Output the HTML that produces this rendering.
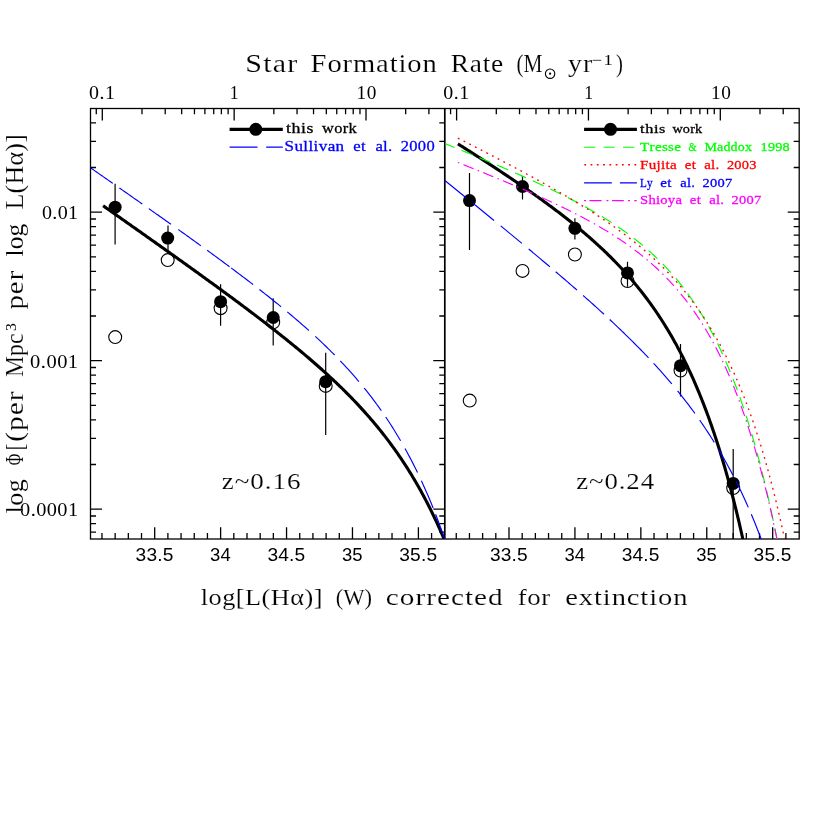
<!DOCTYPE html>
<html><head><meta charset="utf-8"><title>Halpha luminosity functions</title>
<style>html,body{margin:0;padding:0;background:#fff}svg{display:block;will-change:transform}text{font-kerning:none}</style></head>
<body>
<svg width="830" height="830" viewBox="0 0 830 830">
<rect width="830" height="830" fill="#fff"/>
<defs><clipPath id="cl"><rect x="90.5" y="108.5" width="354.3" height="430.5"/></clipPath>
<clipPath id="cr"><rect x="444.8" y="108.5" width="354.4" height="430.5"/></clipPath></defs>
<g stroke="#000" stroke-width="1.30" fill="none" stroke-linecap="butt">
<rect x="90.50" y="108.50" width="708.70" height="430.50"/>
<line x1="444.80" y1="108.50" x2="444.80" y2="539.00" stroke-width="1.7"/>
<path d="M101.96 539.00 V533.00 M115.15 539.00 V533.00 M128.33 539.00 V533.00 M141.51 539.00 V533.00 M154.70 539.00 V527.20 M167.89 539.00 V533.00 M181.07 539.00 V533.00 M194.25 539.00 V533.00 M207.44 539.00 V533.00 M220.62 539.00 V527.20 M233.81 539.00 V533.00 M247.00 539.00 V533.00 M260.18 539.00 V533.00 M273.36 539.00 V533.00 M286.55 539.00 V527.20 M299.74 539.00 V533.00 M312.92 539.00 V533.00 M326.10 539.00 V533.00 M339.29 539.00 V533.00 M352.47 539.00 V527.20 M365.66 539.00 V533.00 M378.85 539.00 V533.00 M392.03 539.00 V533.00 M405.21 539.00 V533.00 M418.40 539.00 V527.20 M431.59 539.00 V533.00 M96.27 108.50 V114.20 M102.30 108.50 V120.50 M141.99 108.50 V114.20 M165.21 108.50 V114.20 M181.68 108.50 V114.20 M194.46 108.50 V114.20 M204.90 108.50 V114.20 M213.73 108.50 V114.20 M221.38 108.50 V114.20 M228.12 108.50 V114.20 M234.15 108.50 V120.50 M273.84 108.50 V114.20 M297.06 108.50 V114.20 M313.53 108.50 V114.20 M326.31 108.50 V114.20 M336.75 108.50 V114.20 M345.58 108.50 V114.20 M353.23 108.50 V114.20 M359.97 108.50 V114.20 M366.00 108.50 V120.50 M405.69 108.50 V114.20 M428.91 108.50 V114.20 M456.26 539.00 V533.00 M469.45 539.00 V533.00 M482.63 539.00 V533.00 M495.81 539.00 V533.00 M509.00 539.00 V527.20 M522.19 539.00 V533.00 M535.37 539.00 V533.00 M548.55 539.00 V533.00 M561.74 539.00 V533.00 M574.92 539.00 V527.20 M588.11 539.00 V533.00 M601.30 539.00 V533.00 M614.48 539.00 V533.00 M627.66 539.00 V533.00 M640.85 539.00 V527.20 M654.04 539.00 V533.00 M667.22 539.00 V533.00 M680.40 539.00 V533.00 M693.59 539.00 V533.00 M706.77 539.00 V527.20 M719.96 539.00 V533.00 M733.15 539.00 V533.00 M746.33 539.00 V533.00 M759.51 539.00 V533.00 M772.70 539.00 V527.20 M785.89 539.00 V533.00 M450.57 108.50 V114.20 M456.60 108.50 V120.50 M496.29 108.50 V114.20 M519.51 108.50 V114.20 M535.98 108.50 V114.20 M548.76 108.50 V114.20 M559.20 108.50 V114.20 M568.03 108.50 V114.20 M575.68 108.50 V114.20 M582.42 108.50 V114.20 M588.45 108.50 V120.50 M628.14 108.50 V114.20 M651.36 108.50 V114.20 M667.83 108.50 V114.20 M680.61 108.50 V114.20 M691.05 108.50 V114.20 M699.88 108.50 V114.20 M707.53 108.50 V114.20 M714.27 108.50 V114.20 M720.30 108.50 V120.50 M759.99 108.50 V114.20 M783.21 108.50 V114.20 M90.50 532.20 H96.00 M439.30 532.20 H444.80 M799.20 532.20 H793.70 M90.50 523.59 H96.00 M439.30 523.59 H444.80 M799.20 523.59 H793.70 M90.50 515.99 H96.00 M439.30 515.99 H444.80 M799.20 515.99 H793.70 M90.50 509.20 H102.00 M433.30 509.20 H444.80 M799.20 509.20 H787.70 M90.50 464.50 H96.00 M439.30 464.50 H444.80 M799.20 464.50 H793.70 M90.50 438.35 H96.00 M439.30 438.35 H444.80 M799.20 438.35 H793.70 M90.50 419.79 H96.00 M439.30 419.79 H444.80 M799.20 419.79 H793.70 M90.50 405.40 H96.00 M439.30 405.40 H444.80 M799.20 405.40 H793.70 M90.50 393.64 H96.00 M439.30 393.64 H444.80 M799.20 393.64 H793.70 M90.50 383.70 H96.00 M439.30 383.70 H444.80 M799.20 383.70 H793.70 M90.50 375.09 H96.00 M439.30 375.09 H444.80 M799.20 375.09 H793.70 M90.50 367.49 H96.00 M439.30 367.49 H444.80 M799.20 367.49 H793.70 M90.50 360.70 H102.00 M433.30 360.70 H444.80 M799.20 360.70 H787.70 M90.50 316.00 H96.00 M439.30 316.00 H444.80 M799.20 316.00 H793.70 M90.50 289.85 H96.00 M439.30 289.85 H444.80 M799.20 289.85 H793.70 M90.50 271.29 H96.00 M439.30 271.29 H444.80 M799.20 271.29 H793.70 M90.50 256.90 H96.00 M439.30 256.90 H444.80 M799.20 256.90 H793.70 M90.50 245.14 H96.00 M439.30 245.14 H444.80 M799.20 245.14 H793.70 M90.50 235.20 H96.00 M439.30 235.20 H444.80 M799.20 235.20 H793.70 M90.50 226.59 H96.00 M439.30 226.59 H444.80 M799.20 226.59 H793.70 M90.50 218.99 H96.00 M439.30 218.99 H444.80 M799.20 218.99 H793.70 M90.50 212.20 H102.00 M433.30 212.20 H444.80 M799.20 212.20 H787.70 M90.50 167.50 H96.00 M439.30 167.50 H444.80 M799.20 167.50 H793.70 M90.50 141.35 H96.00 M439.30 141.35 H444.80 M799.20 141.35 H793.70 M90.50 122.79 H96.00 M439.30 122.79 H444.80 M799.20 122.79 H793.70"/>
</g>
<path d="M115.10 183.70 V244.40 M168.00 225.50 V251.00 M220.60 284.30 V325.80 M273.20 298.20 V345.40 M325.70 352.70 V434.90 M469.50 173.00 V250.10 M522.50 175.90 V199.60 M574.90 218.30 V239.50 M627.50 261.70 V286.70 M680.50 343.90 V396.50 M733.20 449.00 V539.00" stroke="#000" stroke-width="1.2" fill="none"/>
<g fill="none" stroke="#000" stroke-width="1.1"><circle cx="115.20" cy="337.10" r="6.45"/><circle cx="167.70" cy="260.10" r="6.45"/><circle cx="220.60" cy="308.20" r="6.45"/><circle cx="273.20" cy="322.30" r="6.45"/><circle cx="325.70" cy="385.90" r="6.45"/><circle cx="469.70" cy="400.60" r="6.45"/><circle cx="522.50" cy="270.90" r="6.45"/><circle cx="574.90" cy="254.50" r="6.45"/><circle cx="627.50" cy="281.00" r="6.45"/><circle cx="680.50" cy="370.50" r="6.45"/><circle cx="733.20" cy="488.10" r="6.45"/></g>
<path d="M103.10 205.78 L104.24 206.59 L105.39 207.39 L106.53 208.19 L107.67 209.00 L108.82 209.80 L109.96 210.60 L111.11 211.41 L112.25 212.21 L113.39 213.02 L114.54 213.82 L115.68 214.63 L116.82 215.43 L117.97 216.24 L119.11 217.04 L120.25 217.85 L121.40 218.65 L122.54 219.46 L123.69 220.26 L124.83 221.07 L125.97 221.87 L127.12 222.68 L128.26 223.48 L129.40 224.29 L130.55 225.10 L131.69 225.90 L132.84 226.71 L133.98 227.52 L135.12 228.32 L136.27 229.13 L137.41 229.94 L138.55 230.75 L139.70 231.55 L140.84 232.36 L141.98 233.17 L143.13 233.98 L144.27 234.79 L145.42 235.60 L146.56 236.40 L147.70 237.21 L148.85 238.02 L149.99 238.83 L151.13 239.64 L152.28 240.45 L153.42 241.26 L154.56 242.07 L155.71 242.88 L156.85 243.69 L158.00 244.51 L159.14 245.32 L160.28 246.13 L161.43 246.94 L162.57 247.75 L163.71 248.57 L164.86 249.38 L166.00 250.19 L167.15 251.00 L168.29 251.82 L169.43 252.63 L170.58 253.45 L171.72 254.26 L172.86 255.08 L174.01 255.89 L175.15 256.71 L176.29 257.52 L177.44 258.34 L178.58 259.16 L179.73 259.97 L180.87 260.79 L182.01 261.61 L183.16 262.43 L184.30 263.25 L185.44 264.06 L186.59 264.88 L187.73 265.70 L188.87 266.52 L190.02 267.35 L191.16 268.17 L192.31 268.99 L193.45 269.81 L194.59 270.63 L195.74 271.46 L196.88 272.28 L198.02 273.10 L199.17 273.93 L200.31 274.75 L201.46 275.58 L202.60 276.41 L203.74 277.23 L204.89 278.06 L206.03 278.89 L207.17 279.72 L208.32 280.55 L209.46 281.38 L210.60 282.21 L211.75 283.04 L212.89 283.87 L214.04 284.70 L215.18 285.53 L216.32 286.37 L217.47 287.20 L218.61 288.04 L219.75 288.87 L220.90 289.71 L222.04 290.55 L223.18 291.39 L224.33 292.23 L225.47 293.07 L226.62 293.91 L227.76 294.75 L228.90 295.59 L230.05 296.43 L231.19 297.28 L232.33 298.12 L233.48 298.97 L234.62 299.82 L235.77 300.66 L236.91 301.51 L238.05 302.36 L239.20 303.22 L240.34 304.07 L241.48 304.92 L242.63 305.78 L243.77 306.63 L244.91 307.49 L246.06 308.35 L247.20 309.20 L248.35 310.06 L249.49 310.93 L250.63 311.79 L251.78 312.65 L252.92 313.52 L254.06 314.39 L255.21 315.25 L256.35 316.12 L257.49 316.99 L258.64 317.87 L259.78 318.74 L260.93 319.62 L262.07 320.49 L263.21 321.37 L264.36 322.25 L265.50 323.13 L266.64 324.02 L267.79 324.90 L268.93 325.79 L270.08 326.68 L271.22 327.57 L272.36 328.46 L273.51 329.36 L274.65 330.25 L275.79 331.15 L276.94 332.05 L278.08 332.95 L279.22 333.86 L280.37 334.77 L281.51 335.67 L282.66 336.59 L283.80 337.50 L284.94 338.41 L286.09 339.33 L287.23 340.25 L288.37 341.18 L289.52 342.10 L290.66 343.03 L291.80 343.96 L292.95 344.89 L294.09 345.83 L295.24 346.77 L296.38 347.71 L297.52 348.65 L298.67 349.60 L299.81 350.55 L300.95 351.51 L302.10 352.46 L303.24 353.42 L304.39 354.38 L305.53 355.35 L306.67 356.32 L307.82 357.29 L308.96 358.27 L310.10 359.25 L311.25 360.24 L312.39 361.22 L313.53 362.22 L314.68 363.21 L315.82 364.21 L316.97 365.21 L318.11 366.22 L319.25 367.23 L320.40 368.25 L321.54 369.27 L322.68 370.30 L323.83 371.32 L324.97 372.36 L326.11 373.40 L327.26 374.44 L328.40 375.49 L329.55 376.54 L330.69 377.60 L331.83 378.67 L332.98 379.74 L334.12 380.81 L335.26 381.89 L336.41 382.98 L337.55 384.07 L338.70 385.17 L339.84 386.28 L340.98 387.39 L342.13 388.50 L343.27 389.63 L344.41 390.76 L345.56 391.89 L346.70 393.03 L347.84 394.18 L348.99 395.34 L350.13 396.51 L351.28 397.68 L352.42 398.86 L353.56 400.04 L354.71 401.24 L355.85 402.44 L356.99 403.65 L358.14 404.87 L359.28 406.10 L360.42 407.34 L361.57 408.58 L362.71 409.84 L363.86 411.10 L365.00 412.37 L366.14 413.66 L367.29 414.95 L368.43 416.25 L369.57 417.56 L370.72 418.89 L371.86 420.22 L373.01 421.56 L374.15 422.92 L375.29 424.29 L376.44 425.66 L377.58 427.05 L378.72 428.46 L379.87 429.87 L381.01 431.29 L382.15 432.73 L383.30 434.19 L384.44 435.65 L385.59 437.13 L386.73 438.62 L387.87 440.13 L389.02 441.65 L390.16 443.18 L391.30 444.73 L392.45 446.30 L393.59 447.88 L394.73 449.47 L395.88 451.09 L397.02 452.71 L398.17 454.36 L399.31 456.02 L400.45 457.70 L401.60 459.40 L402.74 461.11 L403.88 462.85 L405.03 464.60 L406.17 466.37 L407.32 468.17 L408.46 469.98 L409.60 471.81 L410.75 473.67 L411.89 475.54 L413.03 477.44 L414.18 479.35 L415.32 481.30 L416.46 483.26 L417.61 485.25 L418.75 487.26 L419.90 489.30 L421.04 491.36 L422.18 493.44 L423.33 495.56 L424.47 497.70 L425.61 499.86 L426.76 502.06 L427.90 504.28 L429.04 506.53 L430.19 508.81 L431.33 511.12 L432.48 513.46 L433.62 515.83 L434.76 518.23 L435.91 520.67 L437.05 523.14 L438.19 525.64 L439.34 528.18 L440.48 530.75 L441.63 533.36 L442.77 536.00 L443.91 538.68 L445.06 541.40" stroke="#000" stroke-width="3.1" fill="none" clip-path="url(#cl)"/>
<path d="M457.90 143.87 L458.86 144.47 L459.81 145.08 L460.77 145.69 L461.73 146.29 L462.68 146.90 L463.64 147.51 L464.59 148.12 L465.55 148.73 L466.51 149.34 L467.46 149.94 L468.42 150.56 L469.38 151.17 L470.33 151.78 L471.29 152.39 L472.25 153.00 L473.20 153.61 L474.16 154.23 L475.11 154.84 L476.07 155.46 L477.03 156.07 L477.98 156.69 L478.94 157.30 L479.90 157.92 L480.85 158.54 L481.81 159.16 L482.77 159.78 L483.72 160.40 L484.68 161.02 L485.63 161.64 L486.59 162.26 L487.55 162.88 L488.50 163.51 L489.46 164.13 L490.42 164.75 L491.37 165.38 L492.33 166.01 L493.29 166.63 L494.24 167.26 L495.20 167.89 L496.15 168.52 L497.11 169.15 L498.07 169.78 L499.02 170.41 L499.98 171.05 L500.94 171.68 L501.89 172.31 L502.85 172.95 L503.81 173.59 L504.76 174.22 L505.72 174.86 L506.67 175.50 L507.63 176.14 L508.59 176.78 L509.54 177.43 L510.50 178.07 L511.46 178.72 L512.41 179.36 L513.37 180.01 L514.33 180.66 L515.28 181.31 L516.24 181.96 L517.19 182.61 L518.15 183.26 L519.11 183.91 L520.06 184.57 L521.02 185.23 L521.98 185.88 L522.93 186.54 L523.89 187.20 L524.85 187.87 L525.80 188.53 L526.76 189.19 L527.71 189.86 L528.67 190.53 L529.63 191.20 L530.58 191.87 L531.54 192.54 L532.50 193.21 L533.45 193.89 L534.41 194.57 L535.37 195.24 L536.32 195.93 L537.28 196.61 L538.23 197.29 L539.19 197.98 L540.15 198.66 L541.10 199.35 L542.06 200.04 L543.02 200.74 L543.97 201.43 L544.93 202.13 L545.89 202.83 L546.84 203.53 L547.80 204.23 L548.75 204.93 L549.71 205.64 L550.67 206.35 L551.62 207.06 L552.58 207.77 L553.54 208.49 L554.49 209.21 L555.45 209.93 L556.41 210.65 L557.36 211.38 L558.32 212.10 L559.27 212.83 L560.23 213.56 L561.19 214.30 L562.14 215.04 L563.10 215.78 L564.06 216.52 L565.01 217.27 L565.97 218.02 L566.93 218.77 L567.88 219.52 L568.84 220.28 L569.79 221.04 L570.75 221.80 L571.71 222.57 L572.66 223.34 L573.62 224.11 L574.58 224.89 L575.53 225.67 L576.49 226.45 L577.45 227.23 L578.40 228.02 L579.36 228.82 L580.31 229.61 L581.27 230.41 L582.23 231.22 L583.18 232.03 L584.14 232.84 L585.10 233.65 L586.05 234.47 L587.01 235.30 L587.97 236.12 L588.92 236.96 L589.88 237.79 L590.83 238.63 L591.79 239.48 L592.75 240.33 L593.70 241.18 L594.66 242.04 L595.62 242.90 L596.57 243.77 L597.53 244.64 L598.49 245.52 L599.44 246.40 L600.40 247.29 L601.35 248.19 L602.31 249.08 L603.27 249.99 L604.22 250.90 L605.18 251.81 L606.14 252.73 L607.09 253.66 L608.05 254.59 L609.01 255.53 L609.96 256.47 L610.92 257.42 L611.87 258.38 L612.83 259.34 L613.79 260.31 L614.74 261.29 L615.70 262.27 L616.66 263.26 L617.61 264.26 L618.57 265.26 L619.53 266.27 L620.48 267.29 L621.44 268.31 L622.39 269.34 L623.35 270.38 L624.31 271.43 L625.26 272.49 L626.22 273.55 L627.18 274.62 L628.13 275.70 L629.09 276.79 L630.05 277.89 L631.00 278.99 L631.96 280.11 L632.91 281.23 L633.87 282.37 L634.83 283.51 L635.78 284.66 L636.74 285.82 L637.70 286.99 L638.65 288.17 L639.61 289.36 L640.57 290.57 L641.52 291.78 L642.48 293.00 L643.43 294.23 L644.39 295.48 L645.35 296.73 L646.30 298.00 L647.26 299.28 L648.22 300.57 L649.17 301.87 L650.13 303.19 L651.09 304.51 L652.04 305.85 L653.00 307.21 L653.95 308.57 L654.91 309.95 L655.87 311.34 L656.82 312.75 L657.78 314.17 L658.74 315.60 L659.69 317.05 L660.65 318.51 L661.61 319.99 L662.56 321.48 L663.52 322.99 L664.47 324.52 L665.43 326.06 L666.39 327.61 L667.34 329.18 L668.30 330.77 L669.26 332.38 L670.21 334.00 L671.17 335.64 L672.13 337.30 L673.08 338.98 L674.04 340.68 L674.99 342.39 L675.95 344.12 L676.91 345.88 L677.86 347.65 L678.82 349.44 L679.78 351.25 L680.73 353.09 L681.69 354.94 L682.65 356.82 L683.60 358.72 L684.56 360.64 L685.51 362.58 L686.47 364.55 L687.43 366.54 L688.38 368.55 L689.34 370.59 L690.30 372.65 L691.25 374.74 L692.21 376.85 L693.17 378.99 L694.12 381.15 L695.08 383.34 L696.03 385.56 L696.99 387.81 L697.95 390.08 L698.90 392.38 L699.86 394.72 L700.82 397.08 L701.77 399.47 L702.73 401.89 L703.69 404.34 L704.64 406.83 L705.60 409.34 L706.55 411.89 L707.51 414.47 L708.47 417.09 L709.42 419.74 L710.38 422.42 L711.34 425.14 L712.29 427.90 L713.25 430.69 L714.21 433.52 L715.16 436.39 L716.12 439.30 L717.07 442.24 L718.03 445.23 L718.99 448.25 L719.94 451.32 L720.90 454.43 L721.86 457.58 L722.81 460.78 L723.77 464.02 L724.73 467.30 L725.68 470.63 L726.64 474.01 L727.59 477.43 L728.55 480.90 L729.51 484.42 L730.46 487.99 L731.42 491.61 L732.38 495.28 L733.33 499.00 L734.29 502.78 L735.25 506.61 L736.20 510.49 L737.16 514.43 L738.11 518.43 L739.07 522.48 L740.03 526.60 L740.98 530.77 L741.94 535.00 L742.90 539.30 L743.85 543.65" stroke="#000" stroke-width="3.1" fill="none" clip-path="url(#cr)"/>
<g fill="#000"><circle cx="115.10" cy="207.20" r="6.5"/><circle cx="167.70" cy="238.10" r="6.5"/><circle cx="220.60" cy="301.70" r="6.5"/><circle cx="273.20" cy="317.50" r="6.5"/><circle cx="325.70" cy="381.70" r="6.5"/><circle cx="469.50" cy="200.60" r="6.5"/><circle cx="522.50" cy="186.50" r="6.5"/><circle cx="574.90" cy="228.30" r="6.5"/><circle cx="627.50" cy="272.90" r="6.5"/><circle cx="680.50" cy="365.70" r="6.5"/><circle cx="733.20" cy="483.40" r="6.5"/></g>
<path d="M88.00 166.05 L89.55 167.13 L91.10 168.21 L92.65 169.29 L94.20 170.37 L95.75 171.46 L97.30 172.54 L98.85 173.62 L100.40 174.70 L101.95 175.78 L103.50 176.86 L105.05 177.94 L106.60 179.03 L108.15 180.11 L109.70 181.19 L111.25 182.28 L112.80 183.36 M119.40 187.98 L120.93 189.04 L122.45 190.11 L123.98 191.18 L125.51 192.25 L127.03 193.32 L128.56 194.39 L130.09 195.46 L131.61 196.53 L133.14 197.61 L134.67 198.68 L136.19 199.75 L137.72 200.82 L139.25 201.90 L140.77 202.97 L142.30 204.04 M148.80 208.62 L150.39 209.74 L151.97 210.86 L153.56 211.98 L155.14 213.10 L156.73 214.22 L158.31 215.34 L159.90 216.46 L161.49 217.58 L163.07 218.71 L164.66 219.83 L166.24 220.95 L167.83 222.08 L169.41 223.21 L171.00 224.33 M178.30 229.53 L179.80 230.60 L181.30 231.67 L182.80 232.75 L184.30 233.82 L185.80 234.89 L187.30 235.97 L188.80 237.04 L190.30 238.12 L191.80 239.20 L193.30 240.28 L194.80 241.36 L196.30 242.44 L197.80 243.52 L199.30 244.61 L200.80 245.69 M207.20 250.33 L208.79 251.49 L210.39 252.65 L211.98 253.81 L213.57 254.98 L215.16 256.14 L216.76 257.31 L218.35 258.48 L219.94 259.65 L221.54 260.83 L223.13 262.00 L224.72 263.18 L226.31 264.36 L227.91 265.54 L229.50 266.72 M231.20 267.99 L232.76 269.16 L234.33 270.33 L235.89 271.50 L237.46 272.67 L239.02 273.85 L240.59 275.03 L242.15 276.21 L243.71 277.40 L245.28 278.58 L246.84 279.77 L248.41 280.97 L249.97 282.16 L251.54 283.36 L253.10 284.57 M259.50 289.53 L261.04 290.72 L262.57 291.93 L264.11 293.13 L265.64 294.34 L267.18 295.56 L268.71 296.77 L270.25 298.00 L271.79 299.22 L273.32 300.45 L274.86 301.69 L276.39 302.93 L277.93 304.17 L279.46 305.42 L281.00 306.68 M287.30 311.88 L288.84 313.17 L290.39 314.47 L291.93 315.77 L293.47 317.08 L295.01 318.39 L296.56 319.71 L298.10 321.04 L299.64 322.38 L301.19 323.72 L302.73 325.07 L304.27 326.43 L305.81 327.79 L307.36 329.17 L308.90 330.55 M315.30 336.37 L316.91 337.86 L318.52 339.36 L320.12 340.87 L321.73 342.40 L323.34 343.93 L324.95 345.48 L326.56 347.03 L328.17 348.61 L329.78 350.19 L331.38 351.79 L332.99 353.40 L334.60 355.02 M340.30 360.90 L341.85 362.54 L343.40 364.19 L344.95 365.85 L346.50 367.53 L348.05 369.23 L349.60 370.94 L351.15 372.68 L352.70 374.43 L354.25 376.19 L355.80 377.98 L357.35 379.79 L358.90 381.62 M364.20 388.03 L365.76 389.97 L367.33 391.93 L368.89 393.92 L370.45 395.93 L372.02 397.97 L373.58 400.04 L375.15 402.13 L376.71 404.25 L378.27 406.40 L379.84 408.58 L381.40 410.79 M385.70 417.03 L387.36 419.50 L389.01 422.01 L390.67 424.56 L392.32 427.15 L393.98 429.78 L395.63 432.46 L397.29 435.18 L398.94 437.94 L400.60 440.76 M405.00 448.48 L406.56 451.31 L408.12 454.18 L409.69 457.11 L411.25 460.09 L412.81 463.12 L414.38 466.21 L415.94 469.35 L417.50 472.55 M421.40 480.79 L423.07 484.43 L424.74 488.16 L426.41 491.96 L428.09 495.84 L429.76 499.79 L431.43 503.83 L433.10 507.96 M435.60 514.30 L437.33 518.81 L439.07 523.43 L440.80 528.15 L442.53 532.98 L444.27 537.92 L446.00 542.97" stroke="#00f" stroke-width="1.15" fill="none" clip-path="url(#cl)"/>
<path d="M443.00 179.06 L444.54 180.30 L446.08 181.54 L447.62 182.79 L449.16 184.03 L450.70 185.28 L452.24 186.52 L453.78 187.77 L455.32 189.01 L456.86 190.26 L458.40 191.50 L459.94 192.75 L461.48 194.00 L463.02 195.25 L464.56 196.49 L466.10 197.74 M472.70 203.10 L474.22 204.33 L475.74 205.57 L477.26 206.81 L478.79 208.04 L480.31 209.28 L481.83 210.52 L483.35 211.76 L484.87 213.00 L486.39 214.24 L487.91 215.48 L489.44 216.72 L490.96 217.96 L492.48 219.21 L494.00 220.45 M500.70 225.93 L502.21 227.18 L503.73 228.42 L505.24 229.66 L506.76 230.90 L508.27 232.15 L509.79 233.40 L511.30 234.64 L512.81 235.89 L514.33 237.14 L515.84 238.39 L517.36 239.64 L518.87 240.89 L520.39 242.14 L521.90 243.40 M528.70 249.04 L530.21 250.30 L531.73 251.56 L533.24 252.83 L534.76 254.09 L536.27 255.36 L537.79 256.63 L539.30 257.89 L540.81 259.17 L542.33 260.44 L543.84 261.71 L545.36 262.99 L546.87 264.26 L548.39 265.54 L549.90 266.82 M555.70 271.74 L557.22 273.04 L558.74 274.34 L560.26 275.64 L561.79 276.94 L563.31 278.25 L564.83 279.55 L566.35 280.86 L567.87 282.18 L569.39 283.49 L570.91 284.81 L572.44 286.13 L573.96 287.45 L575.48 288.78 L577.00 290.10 M583.10 295.46 L584.71 296.88 L586.32 298.31 L587.92 299.74 L589.53 301.17 L591.14 302.60 L592.75 304.05 L594.35 305.49 L595.96 306.94 L597.57 308.39 L599.18 309.85 L600.78 311.32 L602.39 312.79 L604.00 314.26 M609.70 319.53 L611.25 320.98 L612.80 322.44 L614.36 323.90 L615.91 325.36 L617.46 326.83 L619.01 328.31 L620.56 329.79 L622.12 331.29 L623.67 332.78 L625.22 334.29 L626.77 335.80 L628.32 337.32 L629.88 338.85 L631.43 340.38 L632.98 341.93 L634.53 343.48 L636.08 345.04 L637.64 346.61 L639.19 348.18 L640.74 349.77 L642.29 351.37 L643.84 352.97 L645.40 354.59 L646.95 356.22 L648.50 357.85 M653.60 363.31 L655.12 364.96 L656.63 366.62 L658.15 368.29 L659.67 369.97 L661.18 371.67 L662.70 373.37 L664.22 375.10 L665.73 376.83 L667.25 378.58 L668.77 380.34 L670.28 382.12 L671.80 383.92 M677.60 390.92 L679.17 392.87 L680.75 394.83 L682.32 396.81 L683.89 398.81 L685.46 400.83 L687.04 402.88 L688.61 404.94 L690.18 407.03 L691.75 409.14 L693.33 411.27 L694.90 413.43 M699.70 420.18 L701.32 422.52 L702.94 424.88 L704.57 427.28 L706.19 429.71 L707.81 432.17 L709.43 434.66 L711.06 437.19 L712.68 439.76 L714.30 442.36 M718.60 449.43 L720.19 452.12 L721.78 454.85 L723.37 457.61 L724.96 460.42 L726.54 463.27 L728.13 466.17 L729.72 469.11 L731.31 472.10 L732.90 475.14 M736.20 481.61 L737.71 484.65 L739.23 487.73 L740.74 490.87 L742.25 494.06 L743.76 497.31 L745.27 500.61 L746.79 503.96 L748.30 507.37 M751.30 514.31 L752.97 518.29 L754.64 522.34 L756.31 526.47 L757.99 530.69 L759.66 534.98 L761.33 539.37 L763.00 543.85" stroke="#00f" stroke-width="1.15" fill="none" clip-path="url(#cr)"/>
<path d="M445.20 143.70 L446.04 144.04 L446.87 144.38 L447.71 144.72 L448.55 145.05 L449.38 145.39 L450.22 145.73 L451.06 146.07 L451.89 146.41 L452.73 146.75 L453.57 147.09 L454.40 147.43 L455.24 147.77 L456.08 148.11 L456.91 148.45 L457.75 148.79 L458.59 149.13 L459.42 149.47 L460.26 149.81 L461.09 150.16 L461.93 150.50 L462.77 150.84 L463.60 151.18 L464.44 151.53 L465.28 151.87 L466.11 152.21 L466.95 152.55 L467.79 152.90 L468.62 153.24 L469.46 153.59 L470.30 153.93 L471.13 154.27 L471.97 154.62 L472.81 154.96 L473.64 155.31 L474.48 155.66 L475.32 156.00 L476.15 156.35 L476.99 156.69 L477.83 157.04 L478.66 157.39 L479.50 157.74 L480.34 158.08 L481.17 158.43 L482.01 158.78 L482.85 159.13 L483.68 159.48 L484.52 159.83 L485.36 160.18 L486.19 160.53 L487.03 160.88 L487.87 161.23 L488.70 161.58 L489.54 161.93 L490.37 162.28 L491.21 162.64 L492.05 162.99 L492.88 163.34 L493.72 163.70 L494.56 164.05 L495.39 164.40 L496.23 164.76 L497.07 165.11 L497.90 165.47 L498.74 165.83 L499.58 166.18 L500.41 166.54 L501.25 166.90 L502.09 167.25 L502.92 167.61 L503.76 167.97 L504.60 168.33 L505.43 168.69 L506.27 169.05 L507.11 169.41 L507.94 169.77 L508.78 170.14 L509.62 170.50 L510.45 170.86 L511.29 171.22 L512.13 171.59 L512.96 171.95 L513.80 172.32 L514.64 172.68 L515.47 173.05 L516.31 173.42 L517.15 173.78 L517.98 174.15 L518.82 174.52 L519.65 174.89 L520.49 175.26 L521.33 175.63 L522.16 176.00 L523.00 176.37 L523.84 176.75 L524.67 177.12 L525.51 177.49 L526.35 177.87 L527.18 178.24 L528.02 178.62 L528.86 179.00 L529.69 179.37 L530.53 179.75 L531.37 180.13 L532.20 180.51 L533.04 180.89 L533.88 181.27 L534.71 181.66 L535.55 182.04 L536.39 182.42 L537.22 182.81 L538.06 183.19 L538.90 183.58 L539.73 183.97 L540.57 184.36 L541.41 184.74 L542.24 185.14 L543.08 185.53 L543.92 185.92 L544.75 186.31 L545.59 186.71 L546.43 187.10 L547.26 187.50 L548.10 187.89 L548.93 188.29 L549.77 188.69 L550.61 189.09 L551.44 189.49 L552.28 189.90 L553.12 190.30 L553.95 190.70 L554.79 191.11 L555.63 191.52 L556.46 191.93 L557.30 192.33 L558.14 192.75 L558.97 193.16 L559.81 193.57 L560.65 193.99 L561.48 194.40 L562.32 194.82 L563.16 195.24 L563.99 195.66 L564.83 196.08 L565.67 196.50 L566.50 196.92 L567.34 197.35 L568.18 197.78 L569.01 198.21 L569.85 198.64 L570.69 199.07 L571.52 199.50 L572.36 199.93 L573.20 200.37 L574.03 200.81 L574.87 201.25 L575.71 201.69 L576.54 202.13 L577.38 202.58 L578.21 203.02 L579.05 203.47 L579.89 203.92 L580.72 204.37 L581.56 204.83 L582.40 205.28 L583.23 205.74 L584.07 206.20 L584.91 206.66 L585.74 207.12 L586.58 207.59 L587.42 208.06 L588.25 208.52 L589.09 209.00 L589.93 209.47 L590.76 209.95 L591.60 210.42 L592.44 210.90 L593.27 211.39 L594.11 211.87 L594.95 212.36 L595.78 212.85 L596.62 213.34 L597.46 213.83 L598.29 214.33 L599.13 214.83 L599.97 215.33 L600.80 215.84 L601.64 216.34 L602.48 216.85 L603.31 217.37 L604.15 217.88 L604.99 218.40 L605.82 218.92 L606.66 219.44 L607.49 219.97 L608.33 220.50 L609.17 221.03 L610.00 221.57 L610.84 222.11 L611.68 222.65 L612.51 223.19 L613.35 223.74 L614.19 224.29 L615.02 224.85 L615.86 225.41 L616.70 225.97 L617.53 226.53 L618.37 227.10 L619.21 227.67 L620.04 228.25 L620.88 228.83 L621.72 229.41 L622.55 230.00 L623.39 230.59 L624.23 231.18 L625.06 231.78 L625.90 232.38 L626.74 232.99 L627.57 233.60 L628.41 234.22 L629.25 234.84 L630.08 235.46 L630.92 236.09 L631.76 236.72 L632.59 237.36 L633.43 238.00 L634.27 238.64 L635.10 239.30 L635.94 239.95 L636.77 240.61 L637.61 241.28 L638.45 241.95 L639.28 242.62 L640.12 243.30 L640.96 243.99 L641.79 244.68 L642.63 245.38 L643.47 246.08 L644.30 246.79 L645.14 247.50 L645.98 248.22 L646.81 248.94 L647.65 249.67 L648.49 250.41 L649.32 251.15 L650.16 251.90 L651.00 252.65 L651.83 253.42 L652.67 254.18 L653.51 254.96 L654.34 255.74 L655.18 256.53 L656.02 257.32 L656.85 258.12 L657.69 258.93 L658.53 259.74 L659.36 260.57 L660.20 261.39 L661.04 262.23 L661.87 263.08 L662.71 263.93 L663.54 264.79 L664.38 265.66 L665.22 266.53 L666.05 267.41 L666.89 268.31 L667.73 269.21 L668.56 270.12 L669.40 271.03 L670.24 271.96 L671.07 272.89 L671.91 273.84 L672.75 274.79 L673.58 275.75 L674.42 276.72 L675.26 277.70 L676.09 278.69 L676.93 279.69 L677.77 280.71 L678.60 281.73 L679.44 282.76 L680.28 283.80 L681.11 284.85 L681.95 285.91 L682.79 286.98 L683.62 288.07 L684.46 289.16 L685.30 290.27 L686.13 291.39 L686.97 292.52 L687.81 293.66 L688.64 294.81 L689.48 295.98 L690.32 297.15 L691.15 298.34 L691.99 299.55 L692.82 300.76 L693.66 301.99 L694.50 303.24 L695.33 304.49 L696.17 305.76 L697.01 307.04 L697.84 308.34 L698.68 309.65 L699.52 310.98 L700.35 312.32 L701.19 313.68 L702.03 315.05 L702.86 316.43 L703.70 317.84 L704.54 319.25 L705.37 320.69 L706.21 322.14 L707.05 323.61 L707.88 325.09 L708.72 326.59 L709.56 328.11 L710.39 329.64 L711.23 331.20 L712.07 332.77 L712.90 334.36 L713.74 335.97 L714.58 337.59 L715.41 339.24 L716.25 340.91 L717.09 342.59 L717.92 344.30 L718.76 346.02 L719.60 347.77 L720.43 349.54 L721.27 351.33 L722.10 353.14 L722.94 354.97 L723.78 356.82 L724.61 358.70 L725.45 360.60 L726.29 362.52 L727.12 364.47 L727.96 366.44 L728.80 368.43 L729.63 370.45 L730.47 372.49 L731.31 374.56 L732.14 376.66 L732.98 378.78 L733.82 380.92 L734.65 383.10 L735.49 385.30 L736.33 387.53 L737.16 389.78 L738.00 392.07 L738.84 394.38 L739.67 396.73 L740.51 399.10 L741.35 401.50 L742.18 403.93 L743.02 406.40 L743.86 408.89 L744.69 411.42 L745.53 413.98 L746.37 416.57 L747.20 419.20 L748.04 421.86 L748.88 424.56 L749.71 427.29 L750.55 430.05 L751.38 432.85 L752.22 435.69 L753.06 438.56 L753.89 441.47 L754.73 444.42 L755.57 447.41 L756.40 450.44 L757.24 453.51 L758.08 456.61 L758.91 459.76 L759.75 462.95 L760.59 466.18 L761.42 469.46 L762.26 472.78 L763.10 476.14 L763.93 479.55 L764.77 483.00 L765.61 486.50 L766.44 490.04 L767.28 493.64 L768.12 497.28 L768.95 500.97 L769.79 504.70 L770.63 508.49 L771.46 512.33 L772.30 516.23 L773.14 520.17 L773.97 524.17 L774.81 528.22 L775.65 532.32 L776.48 536.49 L777.32 540.70 L778.16 544.98 L778.99 549.31" stroke="#0f0" stroke-width="1.15" fill="none" stroke-dasharray="11.8 7.6" stroke-dashoffset="1.8" clip-path="url(#cr)"/>
<path d="M457.90 162.51 L458.70 162.82 L459.51 163.14 L460.31 163.46 L461.12 163.78 L461.92 164.10 L462.73 164.42 L463.53 164.74 L464.34 165.06 L465.14 165.38 L465.95 165.70 L466.75 166.02 L467.56 166.35 L468.36 166.67 L469.17 166.99 L469.97 167.31 L470.77 167.63 L471.58 167.96 L472.38 168.28 L473.19 168.60 L473.99 168.92 L474.80 169.25 L475.60 169.57 L476.41 169.89 L477.21 170.22 L478.02 170.54 L478.82 170.87 L479.63 171.19 L480.43 171.52 L481.24 171.84 L482.04 172.17 L482.85 172.50 L483.65 172.82 L484.45 173.15 L485.26 173.48 L486.06 173.80 L486.87 174.13 L487.67 174.46 L488.48 174.79 L489.28 175.12 L490.09 175.44 L490.89 175.77 L491.70 176.10 L492.50 176.43 L493.31 176.76 L494.11 177.09 L494.92 177.43 L495.72 177.76 L496.52 178.09 L497.33 178.42 L498.13 178.75 L498.94 179.09 L499.74 179.42 L500.55 179.75 L501.35 180.09 L502.16 180.42 L502.96 180.76 L503.77 181.09 L504.57 181.43 L505.38 181.76 L506.18 182.10 L506.99 182.44 L507.79 182.78 L508.59 183.11 L509.40 183.45 L510.20 183.79 L511.01 184.13 L511.81 184.47 L512.62 184.81 L513.42 185.15 L514.23 185.49 L515.03 185.84 L515.84 186.18 L516.64 186.52 L517.45 186.87 L518.25 187.21 L519.06 187.55 L519.86 187.90 L520.66 188.25 L521.47 188.59 L522.27 188.94 L523.08 189.29 L523.88 189.63 L524.69 189.98 L525.49 190.33 L526.30 190.68 L527.10 191.03 L527.91 191.38 L528.71 191.74 L529.52 192.09 L530.32 192.44 L531.13 192.80 L531.93 193.15 L532.74 193.51 L533.54 193.86 L534.34 194.22 L535.15 194.58 L535.95 194.94 L536.76 195.29 L537.56 195.65 L538.37 196.01 L539.17 196.38 L539.98 196.74 L540.78 197.10 L541.59 197.46 L542.39 197.83 L543.20 198.20 L544.00 198.56 L544.81 198.93 L545.61 199.30 L546.41 199.67 L547.22 200.04 L548.02 200.41 L548.83 200.78 L549.63 201.15 L550.44 201.52 L551.24 201.90 L552.05 202.27 L552.85 202.65 L553.66 203.03 L554.46 203.41 L555.27 203.79 L556.07 204.17 L556.88 204.55 L557.68 204.93 L558.48 205.32 L559.29 205.70 L560.09 206.09 L560.90 206.47 L561.70 206.86 L562.51 207.25 L563.31 207.64 L564.12 208.04 L564.92 208.43 L565.73 208.82 L566.53 209.22 L567.34 209.62 L568.14 210.01 L568.95 210.41 L569.75 210.82 L570.56 211.22 L571.36 211.62 L572.16 212.03 L572.97 212.43 L573.77 212.84 L574.58 213.25 L575.38 213.66 L576.19 214.07 L576.99 214.49 L577.80 214.90 L578.60 215.32 L579.41 215.74 L580.21 216.16 L581.02 216.58 L581.82 217.01 L582.63 217.43 L583.43 217.86 L584.23 218.29 L585.04 218.72 L585.84 219.15 L586.65 219.58 L587.45 220.02 L588.26 220.46 L589.06 220.90 L589.87 221.34 L590.67 221.78 L591.48 222.23 L592.28 222.67 L593.09 223.12 L593.89 223.58 L594.70 224.03 L595.50 224.48 L596.30 224.94 L597.11 225.40 L597.91 225.86 L598.72 226.33 L599.52 226.79 L600.33 227.26 L601.13 227.73 L601.94 228.21 L602.74 228.68 L603.55 229.16 L604.35 229.64 L605.16 230.13 L605.96 230.61 L606.77 231.10 L607.57 231.59 L608.38 232.09 L609.18 232.58 L609.98 233.08 L610.79 233.58 L611.59 234.09 L612.40 234.59 L613.20 235.10 L614.01 235.62 L614.81 236.13 L615.62 236.65 L616.42 237.17 L617.23 237.70 L618.03 238.23 L618.84 238.76 L619.64 239.29 L620.45 239.83 L621.25 240.37 L622.05 240.92 L622.86 241.46 L623.66 242.01 L624.47 242.57 L625.27 243.13 L626.08 243.69 L626.88 244.26 L627.69 244.82 L628.49 245.40 L629.30 245.97 L630.10 246.55 L630.91 247.14 L631.71 247.73 L632.52 248.32 L633.32 248.92 L634.12 249.52 L634.93 250.12 L635.73 250.73 L636.54 251.34 L637.34 251.96 L638.15 252.58 L638.95 253.21 L639.76 253.84 L640.56 254.48 L641.37 255.12 L642.17 255.76 L642.98 256.41 L643.78 257.07 L644.59 257.73 L645.39 258.39 L646.19 259.06 L647.00 259.74 L647.80 260.42 L648.61 261.10 L649.41 261.79 L650.22 262.49 L651.02 263.19 L651.83 263.90 L652.63 264.61 L653.44 265.33 L654.24 266.06 L655.05 266.79 L655.85 267.52 L656.66 268.27 L657.46 269.02 L658.27 269.77 L659.07 270.53 L659.87 271.30 L660.68 272.08 L661.48 272.86 L662.29 273.65 L663.09 274.44 L663.90 275.24 L664.70 276.05 L665.51 276.87 L666.31 277.69 L667.12 278.52 L667.92 279.36 L668.73 280.21 L669.53 281.06 L670.34 281.92 L671.14 282.79 L671.94 283.67 L672.75 284.55 L673.55 285.45 L674.36 286.35 L675.16 287.26 L675.97 288.18 L676.77 289.10 L677.58 290.04 L678.38 290.99 L679.19 291.94 L679.99 292.90 L680.80 293.88 L681.60 294.86 L682.41 295.85 L683.21 296.85 L684.01 297.86 L684.82 298.88 L685.62 299.91 L686.43 300.96 L687.23 302.01 L688.04 303.07 L688.84 304.14 L689.65 305.23 L690.45 306.32 L691.26 307.43 L692.06 308.55 L692.87 309.68 L693.67 310.82 L694.48 311.97 L695.28 313.14 L696.09 314.31 L696.89 315.50 L697.69 316.70 L698.50 317.92 L699.30 319.15 L700.11 320.39 L700.91 321.64 L701.72 322.91 L702.52 324.19 L703.33 325.48 L704.13 326.79 L704.94 328.11 L705.74 329.45 L706.55 330.80 L707.35 332.17 L708.16 333.55 L708.96 334.95 L709.76 336.36 L710.57 337.79 L711.37 339.23 L712.18 340.69 L712.98 342.17 L713.79 343.66 L714.59 345.17 L715.40 346.70 L716.20 348.24 L717.01 349.80 L717.81 351.38 L718.62 352.98 L719.42 354.59 L720.23 356.23 L721.03 357.88 L721.83 359.55 L722.64 361.24 L723.44 362.96 L724.25 364.69 L725.05 366.44 L725.86 368.21 L726.66 370.00 L727.47 371.81 L728.27 373.65 L729.08 375.51 L729.88 377.38 L730.69 379.28 L731.49 381.21 L732.30 383.15 L733.10 385.12 L733.90 387.12 L734.71 389.13 L735.51 391.17 L736.32 393.24 L737.12 395.33 L737.93 397.44 L738.73 399.59 L739.54 401.75 L740.34 403.95 L741.15 406.17 L741.95 408.41 L742.76 410.69 L743.56 412.99 L744.37 415.32 L745.17 417.68 L745.98 420.07 L746.78 422.49 L747.58 424.94 L748.39 427.42 L749.19 429.93 L750.00 432.47 L750.80 435.04 L751.61 437.64 L752.41 440.28 L753.22 442.95 L754.02 445.65 L754.83 448.39 L755.63 451.16 L756.44 453.97 L757.24 456.81 L758.05 459.69 L758.85 462.60 L759.65 465.55 L760.46 468.54 L761.26 471.57 L762.07 474.63 L762.87 477.74 L763.68 480.88 L764.48 484.06 L765.29 487.29 L766.09 490.55 L766.90 493.86 L767.70 497.21 L768.51 500.60 L769.31 504.04 L770.12 507.52 L770.92 511.05 L771.72 514.62 L772.53 518.24 L773.33 521.91 L774.14 525.62 L774.94 529.38 L775.75 533.19 L776.55 537.05 L777.36 540.96 L778.16 544.92 L778.97 548.93" stroke="#f0f" stroke-width="1.15" fill="none" stroke-dasharray="1.5 4.5 10.8 4.5" clip-path="url(#cr)"/>
<path d="M457.90 138.11 L458.72 138.53 L459.55 138.95 L460.37 139.37 L461.20 139.79 L462.02 140.21 L462.84 140.63 L463.67 141.05 L464.49 141.47 L465.32 141.89 L466.14 142.31 L466.96 142.73 L467.79 143.15 L468.61 143.58 L469.43 144.00 L470.26 144.42 L471.08 144.84 L471.91 145.26 L472.73 145.69 L473.55 146.11 L474.38 146.53 L475.20 146.95 L476.03 147.38 L476.85 147.80 L477.67 148.22 L478.50 148.65 L479.32 149.07 L480.15 149.50 L480.97 149.92 L481.79 150.35 L482.62 150.77 L483.44 151.20 L484.27 151.62 L485.09 152.05 L485.91 152.47 L486.74 152.90 L487.56 153.33 L488.38 153.75 L489.21 154.18 L490.03 154.61 L490.86 155.04 L491.68 155.46 L492.50 155.89 L493.33 156.32 L494.15 156.75 L494.98 157.18 L495.80 157.61 L496.62 158.04 L497.45 158.47 L498.27 158.90 L499.10 159.33 L499.92 159.76 L500.74 160.19 L501.57 160.63 L502.39 161.06 L503.22 161.49 L504.04 161.92 L504.86 162.36 L505.69 162.79 L506.51 163.22 L507.33 163.66 L508.16 164.09 L508.98 164.53 L509.81 164.97 L510.63 165.40 L511.45 165.84 L512.28 166.28 L513.10 166.71 L513.93 167.15 L514.75 167.59 L515.57 168.03 L516.40 168.47 L517.22 168.91 L518.05 169.35 L518.87 169.79 L519.69 170.23 L520.52 170.67 L521.34 171.11 L522.17 171.55 L522.99 172.00 L523.81 172.44 L524.64 172.89 L525.46 173.33 L526.28 173.77 L527.11 174.22 L527.93 174.67 L528.76 175.11 L529.58 175.56 L530.40 176.01 L531.23 176.46 L532.05 176.91 L532.88 177.36 L533.70 177.81 L534.52 178.26 L535.35 178.71 L536.17 179.16 L537.00 179.61 L537.82 180.07 L538.64 180.52 L539.47 180.98 L540.29 181.43 L541.12 181.89 L541.94 182.35 L542.76 182.80 L543.59 183.26 L544.41 183.72 L545.23 184.18 L546.06 184.64 L546.88 185.10 L547.71 185.57 L548.53 186.03 L549.35 186.49 L550.18 186.96 L551.00 187.42 L551.83 187.89 L552.65 188.36 L553.47 188.82 L554.30 189.29 L555.12 189.76 L555.95 190.23 L556.77 190.71 L557.59 191.18 L558.42 191.65 L559.24 192.13 L560.07 192.60 L560.89 193.08 L561.71 193.56 L562.54 194.03 L563.36 194.51 L564.18 194.99 L565.01 195.48 L565.83 195.96 L566.66 196.44 L567.48 196.93 L568.30 197.41 L569.13 197.90 L569.95 198.39 L570.78 198.88 L571.60 199.37 L572.42 199.86 L573.25 200.35 L574.07 200.85 L574.90 201.34 L575.72 201.84 L576.54 202.34 L577.37 202.84 L578.19 203.34 L579.02 203.84 L579.84 204.34 L580.66 204.85 L581.49 205.35 L582.31 205.86 L583.13 206.37 L583.96 206.88 L584.78 207.39 L585.61 207.91 L586.43 208.42 L587.25 208.94 L588.08 209.46 L588.90 209.98 L589.73 210.50 L590.55 211.02 L591.37 211.55 L592.20 212.07 L593.02 212.60 L593.85 213.13 L594.67 213.66 L595.49 214.20 L596.32 214.73 L597.14 215.27 L597.97 215.81 L598.79 216.35 L599.61 216.89 L600.44 217.44 L601.26 217.99 L602.08 218.54 L602.91 219.09 L603.73 219.64 L604.56 220.19 L605.38 220.75 L606.20 221.31 L607.03 221.87 L607.85 222.44 L608.68 223.00 L609.50 223.57 L610.32 224.14 L611.15 224.72 L611.97 225.29 L612.80 225.87 L613.62 226.45 L614.44 227.03 L615.27 227.62 L616.09 228.21 L616.92 228.80 L617.74 229.39 L618.56 229.99 L619.39 230.59 L620.21 231.19 L621.03 231.79 L621.86 232.40 L622.68 233.01 L623.51 233.63 L624.33 234.24 L625.15 234.86 L625.98 235.48 L626.80 236.11 L627.63 236.74 L628.45 237.37 L629.27 238.00 L630.10 238.64 L630.92 239.28 L631.75 239.93 L632.57 240.58 L633.39 241.23 L634.22 241.88 L635.04 242.54 L635.87 243.21 L636.69 243.87 L637.51 244.54 L638.34 245.22 L639.16 245.90 L639.98 246.58 L640.81 247.26 L641.63 247.95 L642.46 248.65 L643.28 249.34 L644.10 250.05 L644.93 250.75 L645.75 251.46 L646.58 252.18 L647.40 252.90 L648.22 253.62 L649.05 254.35 L649.87 255.09 L650.70 255.82 L651.52 256.57 L652.34 257.32 L653.17 258.07 L653.99 258.83 L654.82 259.59 L655.64 260.36 L656.46 261.13 L657.29 261.91 L658.11 262.69 L658.93 263.48 L659.76 264.28 L660.58 265.08 L661.41 265.88 L662.23 266.70 L663.05 267.51 L663.88 268.34 L664.70 269.17 L665.53 270.00 L666.35 270.85 L667.17 271.70 L668.00 272.55 L668.82 273.41 L669.65 274.28 L670.47 275.15 L671.29 276.04 L672.12 276.92 L672.94 277.82 L673.77 278.72 L674.59 279.63 L675.41 280.55 L676.24 281.47 L677.06 282.40 L677.88 283.34 L678.71 284.29 L679.53 285.25 L680.36 286.21 L681.18 287.18 L682.00 288.16 L682.83 289.15 L683.65 290.14 L684.48 291.14 L685.30 292.16 L686.12 293.18 L686.95 294.21 L687.77 295.25 L688.60 296.30 L689.42 297.36 L690.24 298.42 L691.07 299.50 L691.89 300.59 L692.72 301.68 L693.54 302.79 L694.36 303.91 L695.19 305.03 L696.01 306.17 L696.83 307.32 L697.66 308.48 L698.48 309.65 L699.31 310.83 L700.13 312.02 L700.95 313.22 L701.78 314.44 L702.60 315.66 L703.43 316.90 L704.25 318.15 L705.07 319.41 L705.90 320.69 L706.72 321.98 L707.55 323.28 L708.37 324.59 L709.19 325.92 L710.02 327.26 L710.84 328.61 L711.67 329.98 L712.49 331.36 L713.31 332.75 L714.14 334.16 L714.96 335.58 L715.78 337.02 L716.61 338.47 L717.43 339.94 L718.26 341.43 L719.08 342.93 L719.90 344.44 L720.73 345.97 L721.55 347.52 L722.38 349.08 L723.20 350.67 L724.02 352.26 L724.85 353.88 L725.67 355.51 L726.50 357.16 L727.32 358.83 L728.14 360.52 L728.97 362.22 L729.79 363.95 L730.62 365.69 L731.44 367.45 L732.26 369.23 L733.09 371.03 L733.91 372.86 L734.73 374.70 L735.56 376.56 L736.38 378.45 L737.21 380.35 L738.03 382.28 L738.85 384.23 L739.68 386.20 L740.50 388.20 L741.33 390.22 L742.15 392.26 L742.97 394.32 L743.80 396.41 L744.62 398.52 L745.45 400.66 L746.27 402.82 L747.09 405.01 L747.92 407.23 L748.74 409.47 L749.57 411.73 L750.39 414.03 L751.21 416.35 L752.04 418.70 L752.86 421.08 L753.68 423.48 L754.51 425.92 L755.33 428.38 L756.16 430.87 L756.98 433.40 L757.80 435.95 L758.63 438.54 L759.45 441.16 L760.28 443.80 L761.10 446.49 L761.92 449.20 L762.75 451.95 L763.57 454.73 L764.40 457.55 L765.22 460.40 L766.04 463.29 L766.87 466.21 L767.69 469.17 L768.52 472.17 L769.34 475.20 L770.16 478.27 L770.99 481.38 L771.81 484.53 L772.63 487.72 L773.46 490.95 L774.28 494.22 L775.11 497.53 L775.93 500.89 L776.75 504.29 L777.58 507.73 L778.40 511.21 L779.23 514.74 L780.05 518.31 L780.87 521.93 L781.70 525.60 L782.52 529.31 L783.35 533.07 L784.17 536.88 L784.99 540.74 L785.82 544.65 L786.64 548.61" stroke="#f00" stroke-width="1.35" fill="none" stroke-dasharray="1.8 4.6" clip-path="url(#cr)"/>
<g fill="none">
<path d="M229.6 129.4 H282.8 M584.1 129.4 H636.9" stroke="#000" stroke-width="3.1"/>
<circle cx="255.8" cy="129.3" r="6.5" fill="#000"/><circle cx="610.5" cy="129.3" r="6.5" fill="#000"/>
<path d="M229.6 147.15 H257.5 M266.2 147.15 H282.8" stroke="#00f" stroke-width="1.15"/>
<path d="M584.1 147.2 H595.3 M603.6 147.2 H614.7 M623 147.2 H634.3" stroke="#0f0" stroke-width="1.15"/>
<path d="M584.3 164.7 H637" stroke="#f00" stroke-width="1.35" stroke-dasharray="1.8 4.47"/>
<path d="M584.1 182.8 H611.8 M619.9 182.8 H636.9" stroke="#00f" stroke-width="1.15"/>
<path d="M584.1 200.6 H586 M589.4 200.6 H601.6 M606.5 200.6 H608.4 M612.1 200.6 H623.8 M628 200.6 H629.9 M634.3 200.6 H636.7" stroke="#f0f" stroke-width="1.15"/>
</g>
<text transform="translate(88.90 99.10) scale(1.1202 1)" letter-spacing="0.491" font-family="'Liberation Serif'" font-size="17.80" font-weight="normal" fill="#000" text-anchor="start" >0.1</text>
<text x="234.30" y="99.10" font-family="'Liberation Serif'" font-size="17.80" font-weight="normal" fill="#000" text-anchor="middle" >1</text>
<text transform="translate(356.62 99.10) scale(1.0833 1)" letter-spacing="0.556" font-family="'Liberation Serif'" font-size="17.80" font-weight="normal" fill="#000" text-anchor="start" >10</text>
<text transform="translate(443.20 99.10) scale(1.1202 1)" letter-spacing="0.491" font-family="'Liberation Serif'" font-size="17.80" font-weight="normal" fill="#000" text-anchor="start" >0.1</text>
<text x="588.60" y="99.10" font-family="'Liberation Serif'" font-size="17.80" font-weight="normal" fill="#000" text-anchor="middle" >1</text>
<text transform="translate(710.92 99.10) scale(1.0833 1)" letter-spacing="0.556" font-family="'Liberation Serif'" font-size="17.80" font-weight="normal" fill="#000" text-anchor="start" >10</text>
<text transform="translate(42.00 219.00) scale(1.0772 1)" letter-spacing="0.330" font-family="'Liberation Serif'" font-size="18.60" font-weight="normal" fill="#000" text-anchor="start" >0.01</text>
<text transform="translate(30.10 367.50) scale(1.1038 1)" letter-spacing="0.419" font-family="'Liberation Serif'" font-size="18.60" font-weight="normal" fill="#000" text-anchor="start" >0.001</text>
<text transform="translate(20.10 516.00) scale(1.0945 1)" letter-spacing="0.376" font-family="'Liberation Serif'" font-size="18.60" font-weight="normal" fill="#000" text-anchor="start" >0.0001</text>
<text transform="translate(135.60 561.40) scale(1.0303 1)" letter-spacing="0.151" font-family="'Liberation Sans'" font-size="18.60" font-weight="normal" fill="#000" text-anchor="start" >33.5</text>
<text x="210.12" y="561.40" textLength="20.54" lengthAdjust="spacingAndGlyphs" font-family="'Liberation Sans'" font-size="18.60" font-weight="normal" fill="#000" text-anchor="start" >34</text>
<text transform="translate(267.45 561.40) scale(1.0303 1)" letter-spacing="0.151" font-family="'Liberation Sans'" font-size="18.60" font-weight="normal" fill="#000" text-anchor="start" >34.5</text>
<text x="341.97" y="561.40" textLength="20.54" lengthAdjust="spacingAndGlyphs" font-family="'Liberation Sans'" font-size="18.60" font-weight="normal" fill="#000" text-anchor="start" >35</text>
<text transform="translate(399.30 561.40) scale(1.0303 1)" letter-spacing="0.151" font-family="'Liberation Sans'" font-size="18.60" font-weight="normal" fill="#000" text-anchor="start" >35.5</text>
<text transform="translate(489.90 561.40) scale(1.0303 1)" letter-spacing="0.151" font-family="'Liberation Sans'" font-size="18.60" font-weight="normal" fill="#000" text-anchor="start" >33.5</text>
<text x="564.42" y="561.40" textLength="20.54" lengthAdjust="spacingAndGlyphs" font-family="'Liberation Sans'" font-size="18.60" font-weight="normal" fill="#000" text-anchor="start" >34</text>
<text transform="translate(621.75 561.40) scale(1.0303 1)" letter-spacing="0.151" font-family="'Liberation Sans'" font-size="18.60" font-weight="normal" fill="#000" text-anchor="start" >34.5</text>
<text x="696.27" y="561.40" textLength="20.54" lengthAdjust="spacingAndGlyphs" font-family="'Liberation Sans'" font-size="18.60" font-weight="normal" fill="#000" text-anchor="start" >35</text>
<text transform="translate(753.60 561.40) scale(1.0303 1)" letter-spacing="0.151" font-family="'Liberation Sans'" font-size="18.60" font-weight="normal" fill="#000" text-anchor="start" >35.5</text>
<text transform="translate(245.18 72.20) scale(1.2236 1)" letter-spacing="1.003" font-family="'Liberation Serif'" font-size="24.60" font-weight="normal" fill="#000" text-anchor="start"  stroke="#fff" stroke-width="0.15">Star</text>
<text transform="translate(310.60 72.20) scale(1.1619 1)" letter-spacing="0.763" font-family="'Liberation Serif'" font-size="24.60" font-weight="normal" fill="#000" text-anchor="start"  stroke="#fff" stroke-width="0.15">Formation</text>
<text transform="translate(450.70 72.20) scale(1.1170 1)" letter-spacing="0.676" font-family="'Liberation Serif'" font-size="24.60" font-weight="normal" fill="#000" text-anchor="start"  stroke="#fff" stroke-width="0.15">Rate</text>
<text x="516.43" y="72.20" textLength="26.05" lengthAdjust="spacingAndGlyphs" font-family="'Liberation Serif'" font-size="24.60" font-weight="normal" fill="#000" text-anchor="start"  stroke="#fff" stroke-width="0.15">(M</text>
<circle cx="550.1" cy="73.7" r="4.7" fill="none" stroke="#000" stroke-width="1.1"/><circle cx="550.1" cy="73.7" r="1.1" fill="#000"/>
<text transform="translate(567.90 72.20) scale(1.1312 1)" letter-spacing="1.009" font-family="'Liberation Serif'" font-size="24.60" font-weight="normal" fill="#000" text-anchor="start"  stroke="#fff" stroke-width="0.15">yr</text>
<text transform="translate(591.50 65.30) scale(1.2418 1)" letter-spacing="1.290" font-family="'Liberation Serif'" font-size="15.00" font-weight="normal" fill="#000" text-anchor="start" >−1</text>
<text x="616.00" y="72.20" textLength="6.96" lengthAdjust="spacingAndGlyphs" font-family="'Liberation Serif'" font-size="24.60" font-weight="normal" fill="#000" text-anchor="start"  stroke="#fff" stroke-width="0.15">)</text>
<text transform="translate(200.80 605.40) scale(1.0948 1)" letter-spacing="0.438" font-family="'Liberation Serif'" font-size="24.00" font-weight="normal" fill="#000" text-anchor="start"  stroke="#fff" stroke-width="0.15">log[L(Hα)]</text>
<text x="335.66" y="605.40" textLength="36.38" lengthAdjust="spacingAndGlyphs" font-family="'Liberation Serif'" font-size="24.00" font-weight="normal" fill="#000" text-anchor="start"  stroke="#fff" stroke-width="0.15">(W)</text>
<text transform="translate(385.80 605.40) scale(1.2167 1)" letter-spacing="0.852" font-family="'Liberation Serif'" font-size="24.00" font-weight="normal" fill="#000" text-anchor="start"  stroke="#fff" stroke-width="0.15">corrected</text>
<text transform="translate(517.70 605.40) scale(1.1152 1)" letter-spacing="0.620" font-family="'Liberation Serif'" font-size="24.00" font-weight="normal" fill="#000" text-anchor="start"  stroke="#fff" stroke-width="0.15">for</text>
<text transform="translate(565.30 605.40) scale(1.1913 1)" letter-spacing="0.734" font-family="'Liberation Serif'" font-size="24.00" font-weight="normal" fill="#000" text-anchor="start"  stroke="#fff" stroke-width="0.15">extinction</text>
<g transform="translate(22.9 0) rotate(-90)">
<text transform="translate(-513.40 0.00) scale(1.0600 1)" letter-spacing="0.378" font-family="'Liberation Serif'" font-size="24.60" font-weight="normal" fill="#000" text-anchor="start"  stroke="#fff" stroke-width="0.15">log</text>
<text x="-465.20" y="0.00" textLength="11.49" lengthAdjust="spacingAndGlyphs" font-family="'Liberation Serif'" font-size="24.60" font-weight="normal" fill="#000" text-anchor="start"  stroke="#fff" stroke-width="0.15">Φ</text>
<text x="-450.33" y="0.00" textLength="6.79" lengthAdjust="spacingAndGlyphs" font-family="'Liberation Serif'" font-size="24.60" font-weight="normal" fill="#000" text-anchor="start"  stroke="#fff" stroke-width="0.15">[</text>
<text transform="translate(-441.69 0.00) scale(1.1913 1)" letter-spacing="0.881" font-family="'Liberation Serif'" font-size="24.60" font-weight="normal" fill="#000" text-anchor="start"  stroke="#fff" stroke-width="0.15">(per</text>
<text x="-376.90" y="0.00" textLength="43.32" lengthAdjust="spacingAndGlyphs" font-family="'Liberation Serif'" font-size="24.60" font-weight="normal" fill="#000" text-anchor="start"  stroke="#fff" stroke-width="0.15">Mpc</text>
<text x="-331.10" y="-7.30" textLength="7.87" lengthAdjust="spacingAndGlyphs" font-family="'Liberation Serif'" font-size="14.50" font-weight="normal" fill="#000" text-anchor="start" >3</text>
<text transform="translate(-309.60 0.00) scale(1.1657 1)" letter-spacing="0.951" font-family="'Liberation Serif'" font-size="24.60" font-weight="normal" fill="#000" text-anchor="start"  stroke="#fff" stroke-width="0.15">per</text>
<text transform="translate(-256.60 0.00) scale(1.0331 1)" letter-spacing="0.213" font-family="'Liberation Serif'" font-size="24.60" font-weight="normal" fill="#000" text-anchor="start"  stroke="#fff" stroke-width="0.15">log</text>
<text transform="translate(-209.50 0.00) scale(1.0512 1)" letter-spacing="0.288" font-family="'Liberation Serif'" font-size="24.60" font-weight="normal" fill="#000" text-anchor="start"  stroke="#fff" stroke-width="0.15">L(Hα)]</text>
</g>
<text transform="translate(221.70 488.70) scale(1.1783 1)" letter-spacing="0.810" font-family="'Liberation Serif'" font-size="23.00" font-weight="normal" fill="#000" text-anchor="start"  stroke="#fff" stroke-width="0.15">z~0.16</text>
<text transform="translate(576.20 488.70) scale(1.1667 1)" letter-spacing="0.776" font-family="'Liberation Serif'" font-size="23.00" font-weight="normal" fill="#000" text-anchor="start"  stroke="#fff" stroke-width="0.15">z~0.24</text>
<text transform="translate(286.00 132.90) scale(1.1660 1)" letter-spacing="0.450" font-family="'Liberation Serif'" font-size="15.30" font-weight="normal" fill="#000" text-anchor="start" stroke="#000" stroke-width="0.3">this</text>
<text transform="translate(322.10 132.90) scale(1.0707 1)" letter-spacing="0.300" font-family="'Liberation Serif'" font-size="15.30" font-weight="normal" fill="#000" text-anchor="start" stroke="#000" stroke-width="0.3">work</text>
<text transform="translate(284.48 150.80) scale(1.1204 1)" letter-spacing="0.331" font-family="'Liberation Serif'" font-size="15.30" font-weight="normal" fill="#00f" text-anchor="start" stroke="#00f" stroke-width="0.3">Sullivan</text>
<text transform="translate(353.20 150.80) scale(1.0897 1)" letter-spacing="0.416" font-family="'Liberation Serif'" font-size="15.30" font-weight="normal" fill="#00f" text-anchor="start" stroke="#00f" stroke-width="0.3">et</text>
<text transform="translate(375.40 150.80) scale(1.0928 1)" letter-spacing="0.255" font-family="'Liberation Serif'" font-size="15.30" font-weight="normal" fill="#00f" text-anchor="start" stroke="#00f" stroke-width="0.3">al.</text>
<text transform="translate(400.70 150.80) scale(1.0781 1)" letter-spacing="0.320" font-family="'Liberation Serif'" font-size="15.30" font-weight="normal" fill="#00f" text-anchor="start" stroke="#00f" stroke-width="0.3">2000</text>
<text transform="translate(640.10 133.00) scale(1.2054 1)" letter-spacing="0.469" font-family="'Liberation Serif'" font-size="13.50" font-weight="normal" fill="#000" text-anchor="start" stroke="#000" stroke-width="0.3">this</text>
<text transform="translate(672.40 133.00) scale(1.0526 1)" letter-spacing="0.200" font-family="'Liberation Serif'" font-size="13.50" font-weight="normal" fill="#000" text-anchor="start" stroke="#000" stroke-width="0.3">work</text>
<text transform="translate(640.10 150.90) scale(1.1104 1)" letter-spacing="0.300" font-family="'Liberation Serif'" font-size="13.50" font-weight="normal" fill="#0f0" text-anchor="start" stroke="#0f0" stroke-width="0.3">Tresse</text>
<text x="688.60" y="150.90" textLength="8.11" lengthAdjust="spacingAndGlyphs" font-family="'Liberation Serif'" font-size="13.50" font-weight="normal" fill="#0f0" text-anchor="start" stroke="#0f0" stroke-width="0.3">&amp;</text>
<text transform="translate(704.50 150.90) scale(1.0380 1)" letter-spacing="0.142" font-family="'Liberation Serif'" font-size="13.50" font-weight="normal" fill="#0f0" text-anchor="start" stroke="#0f0" stroke-width="0.3">Maddox</text>
<text transform="translate(760.54 150.90) scale(1.0573 1)" letter-spacing="0.203" font-family="'Liberation Serif'" font-size="13.50" font-weight="normal" fill="#0f0" text-anchor="start" stroke="#0f0" stroke-width="0.3">1998</text>
<text transform="translate(640.10 168.70) scale(1.1153 1)" letter-spacing="0.279" font-family="'Liberation Serif'" font-size="13.50" font-weight="normal" fill="#f00" text-anchor="start" stroke="#f00" stroke-width="0.3">Fujita</text>
<text transform="translate(684.80 168.70) scale(1.0916 1)" letter-spacing="0.359" font-family="'Liberation Serif'" font-size="13.50" font-weight="normal" fill="#f00" text-anchor="start" stroke="#f00" stroke-width="0.3">et</text>
<text transform="translate(704.20 168.70) scale(1.1020 1)" letter-spacing="0.253" font-family="'Liberation Serif'" font-size="13.50" font-weight="normal" fill="#f00" text-anchor="start" stroke="#f00" stroke-width="0.3">al.</text>
<text transform="translate(726.90 168.70) scale(1.0681 1)" letter-spacing="0.248" font-family="'Liberation Serif'" font-size="13.50" font-weight="normal" fill="#f00" text-anchor="start" stroke="#f00" stroke-width="0.3">2003</text>
<text x="640.10" y="186.50" textLength="12.39" lengthAdjust="spacingAndGlyphs" font-family="'Liberation Serif'" font-size="13.50" font-weight="normal" fill="#00f" text-anchor="start" stroke="#00f" stroke-width="0.3">Ly</text>
<text transform="translate(660.30 186.50) scale(1.1056 1)" letter-spacing="0.409" font-family="'Liberation Serif'" font-size="13.50" font-weight="normal" fill="#00f" text-anchor="start" stroke="#00f" stroke-width="0.3">et</text>
<text transform="translate(680.20 186.50) scale(1.0801 1)" letter-spacing="0.202" font-family="'Liberation Serif'" font-size="13.50" font-weight="normal" fill="#00f" text-anchor="start" stroke="#00f" stroke-width="0.3">al.</text>
<text transform="translate(702.50 186.50) scale(1.0706 1)" letter-spacing="0.257" font-family="'Liberation Serif'" font-size="13.50" font-weight="normal" fill="#00f" text-anchor="start" stroke="#00f" stroke-width="0.3">2007</text>
<text transform="translate(640.10 204.30) scale(1.0801 1)" letter-spacing="0.238" font-family="'Liberation Serif'" font-size="13.50" font-weight="normal" fill="#f0f" text-anchor="start" stroke="#f0f" stroke-width="0.3">Shioya</text>
<text transform="translate(689.80 204.30) scale(1.0916 1)" letter-spacing="0.359" font-family="'Liberation Serif'" font-size="13.50" font-weight="normal" fill="#f0f" text-anchor="start" stroke="#f0f" stroke-width="0.3">et</text>
<text transform="translate(709.20 204.30) scale(1.0855 1)" letter-spacing="0.215" font-family="'Liberation Serif'" font-size="13.50" font-weight="normal" fill="#f0f" text-anchor="start" stroke="#f0f" stroke-width="0.3">al.</text>
<text transform="translate(731.50 204.30) scale(1.0706 1)" letter-spacing="0.257" font-family="'Liberation Serif'" font-size="13.50" font-weight="normal" fill="#f0f" text-anchor="start" stroke="#f0f" stroke-width="0.3">2007</text>
</svg>
</body></html>
